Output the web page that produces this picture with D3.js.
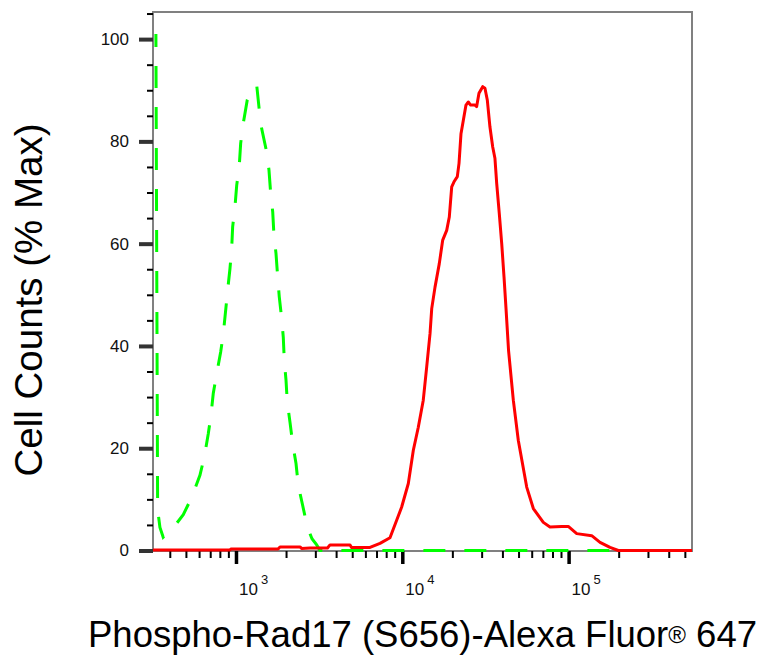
<!DOCTYPE html>
<html>
<head>
<meta charset="utf-8">
<script src="https://cdn.jsdelivr.net/npm/d3@7"></script>
<style>
    body { margin: 0; background: #fff; }
    text { font-family: Arial, "Liberation Sans", Helvetica, sans-serif; }
</style>
</head>
<body>
<svg id="histogram" width="772" height="660"></svg>
<script>
// isotype control (green dashed) - fluorescence value / % of max
var controlValues = [330, 338, 349, 365, 392, 430, 482, 542, 607, 645,
    681, 707, 730, 766, 809, 839, 879, 891, 920, 942,
    955, 986, 1010, 1047, 1067, 1106, 1169, 1214, 1332, 1381,
    1427, 1530, 1579, 1617, 1663, 1692, 1740, 1781, 1821, 1883,
    1925, 1952, 1999, 2035, 2112, 2193, 2296, 2370, 2518, 2685,
    2864, 3057, 3200, 552000];
var controlCounts = [101, 8, 4.5, 2.6, 3.6, 4.9, 7.0, 10.4, 14.7, 18.3,
    22.8, 26.4, 30.7, 34.6, 38.8, 42.4, 48.9, 50.9, 55.1, 59.0,
    63.3, 67.2, 71.4, 75.3, 79.6, 83.5, 88.1, 89.4, 91.0, 86.1,
    82.5, 77.9, 74.4, 69.8, 66.2, 61.6, 58.1, 53.5, 49.6, 45.3,
    41.7, 37.2, 33.3, 29.0, 25.1, 20.9, 17.0, 12.7, 8.8, 4.6,
    2.3, 1.1, 0, 0];

// Phospho-Rad17 stained (red solid)
var stainedValues = [317, 920, 935, 1790, 1839, 2426, 2480, 2786, 3550, 3675,
    4850, 4950, 6396, 7345, 8434, 9250, 9915, 10870, 11650, 12480,
    13370, 14020, 14680, 15030, 15730, 16690, 17500, 18490, 19170, 19820,
    20460, 21420, 21930, 22540, 23270, 24150, 24940, 25760, 27350, 28000,
    28910, 30440, 31410, 32440, 33660, 34970, 36060, 36950, 38290, 39610,
    40890, 42040, 43550, 46510, 49850, 55980, 61370, 70470, 77270, 90830,
    99540, 111900, 137700, 154500, 177400, 199000, 552000];
var stainedCounts = [0.1, 0.1, 0.3, 0.3, 0.7, 0.7, 0.4, 0.5, 0.5, 1.1,
    1.1, 0.6, 0.6, 1.4, 2.5, 5.9, 8.5, 13.1, 19.6, 24.1,
    29.4, 35.9, 42.4, 47.3, 51.5, 56.1, 60.7, 62.6, 65.2, 71.1,
    72.1, 73.1, 75.7, 81.5, 84.1, 87.1, 87.7, 87.1, 87.1, 86.8,
    89.4, 90.7, 90.4, 88.1, 82.8, 78.9, 76.7, 71.8, 65.9, 60.0,
    53.5, 47.3, 39.1, 29.4, 21.5, 12.4, 8.2, 5.5, 4.6, 4.7,
    4.7, 3.3, 2.9, 1.6, 0.6, 0, 0];

var yMajorTicks = [0, 20, 40, 60, 80, 100];
var yMinorTicks = [5, 10, 15, 25, 30, 35, 45, 50, 55, 65, 70, 75, 85, 90, 95, 105];
var xDecades = [1e3, 1e4, 1e5];
var xDecadeExponents = ["3", "4", "5"];
var xMinorTicks = [400, 500, 600, 700, 800, 900,
    2000, 3000, 4000, 5000, 6000, 7000, 8000, 9000,
    20000, 30000, 40000, 50000, 60000, 70000, 80000, 90000,
    200000, 300000, 400000, 500000];

var plotLeft = 153, plotRight = 692, plotTop = 12, plotBottom = 551;
var svg = d3.select('#histogram');

var xScale = d3.scaleLog().domain([317, 552000]).range([plotLeft, plotRight]);
var yScale = d3.scaleLinear().domain([0, 105.3]).range([550.5, plotTop]);

// frame
svg.append('rect')
    .attr('x', plotLeft).attr('y', plotTop)
    .attr('width', plotRight - plotLeft).attr('height', plotBottom - plotTop)
    .attr('fill', 'none')
    .attr('stroke', '#808080')
    .attr('stroke-width', 2);

// y axis: minor then major ticks
var yMinor = svg.append('g')
    .attr('transform', 'translate(' + plotLeft + ',0)')
    .call(d3.axisLeft(yScale).tickValues(yMinorTicks).tickSize(6).tickFormat(''));
yMinor.select('.domain').remove();
yMinor.selectAll('line').attr('stroke', '#000').attr('stroke-width', 2);

var yMajor = svg.append('g')
    .attr('transform', 'translate(' + plotLeft + ',0)')
    .call(d3.axisLeft(yScale).tickValues(yMajorTicks).tickSize(14).tickPadding(10));
yMajor.select('.domain').remove();
yMajor.selectAll('line').attr('stroke', '#333').attr('stroke-width', 4);
yMajor.selectAll('text')
    .style('font-size', '17px')
    .attr('fill', '#111');

// x axis: minor then decade ticks
var xMinor = svg.append('g')
    .attr('transform', 'translate(0,' + plotBottom + ')')
    .call(d3.axisBottom(xScale).tickValues(xMinorTicks).tickSize(7).tickFormat(''));
xMinor.select('.domain').remove();
xMinor.selectAll('line').attr('stroke', '#000').attr('stroke-width', 2);

var xMajor = svg.append('g')
    .attr('transform', 'translate(0,' + plotBottom + ')')
    .call(d3.axisBottom(xScale).tickValues(xDecades).tickSize(13).tickFormat(''));
xMajor.select('.domain').remove();
xMajor.selectAll('line').attr('stroke', '#000').attr('stroke-width', 3.5);

var decadeLabel = xMajor.selectAll('.tick')
    .append('text')
    .attr('x', 2.5)
    .attr('y', 44)
    .attr('text-anchor', 'start')
    .attr('fill', '#111')
    .style('font-size', '17px');
decadeLabel.append('tspan').text('10');
decadeLabel.append('tspan')
    .style('font-size', '13px')
    .attr('dx', 3)
    .attr('dy', -11)
    .text(function (d, i) { return xDecadeExponents[i]; });

// histograms
svg.append('clipPath').attr('id', 'plotClip')
    .append('rect')
    .attr('x', plotLeft - 2).attr('y', plotTop - 2)
    .attr('width', plotRight - plotLeft + 4).attr('height', plotBottom - plotTop + 4);

var line = d3.line()
    .x(function (d) { return xScale(d[0]); })
    .y(function (d) { return yScale(d[1]); });

var control = d3.zip(controlValues, controlCounts);
var stained = d3.zip(stainedValues, stainedCounts);

svg.append('path')
    .datum(control)
    .attr('clip-path', 'url(#plotClip)')
    .attr('d', line)
    .attr('fill', 'none')
    .attr('stroke', '#00ff00')
    .attr('stroke-width', 3)
    .attr('stroke-dasharray', '22,19')
    .attr('stroke-dashoffset', 9);

svg.append('path')
    .datum(stained)
    .attr('clip-path', 'url(#plotClip)')
    .attr('d', line)
    .attr('fill', 'none')
    .attr('stroke', '#ff0000')
    .attr('stroke-width', 3)
    .attr('stroke-linejoin', 'round');

// axis titles
svg.append('text')
    .attr('transform', 'translate(42,300)rotate(-90)')
    .attr('text-anchor', 'middle')
    .style('font-size', '38.5px')
    .attr('fill', '#000')
    .text('Cell Counts (% Max)');

var xTitle = svg.append('text')
    .attr('x', 88)
    .attr('y', 647)
    .style('font-size', '36.5px')
    .attr('fill', '#000');
xTitle.append('tspan').text('Phospho-Rad17 (S656)-Alexa Fluor');
xTitle.append('tspan').style('font-size', '24px').attr('dy', -4).text('\u00ae');
xTitle.append('tspan').attr('dy', 4).text(' 647');
</script>
</body>
</html>
